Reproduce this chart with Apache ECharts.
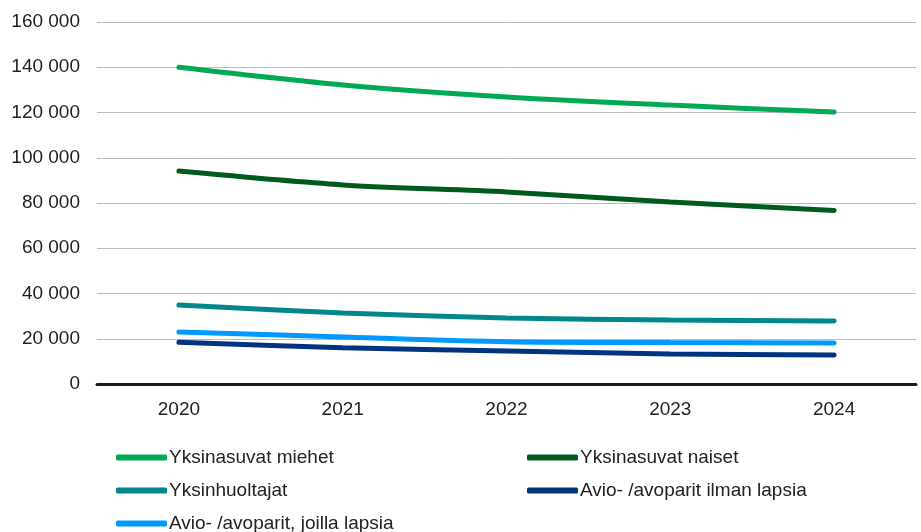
<!DOCTYPE html>
<html>
<head>
<meta charset="utf-8">
<script src="https://cdn.jsdelivr.net/npm/echarts@6/dist/echarts.min.js"></script>
<style>html,body{margin:0;padding:0;background:#fff}#c{width:921px;height:532px}</style>
</head>
<body>
<div id="c"></div>
<script>
var years = ['2020', '2021', '2022', '2023', '2024'];
var miehet = [140000, 132200, 126900, 123300, 120200];
var naiset = [94100, 88000, 84900, 80400, 76700];
var yksinhuoltajat = [34900, 31400, 29200, 28300, 27800];
var ilmanLapsia = [18400, 16000, 14600, 13300, 12800];
var joillaLapsia = [23000, 20800, 18700, 18300, 18100];
var seriesNames = ['Yksinasuvat miehet', 'Yksinasuvat naiset', 'Yksinhuoltajat', 'Avio- /avoparit ilman lapsia', 'Avio- /avoparit, joilla lapsia'];
var colors = ['#00AA55', '#005A1E', '#00868B', '#003380', '#0099FF'];

var chart = echarts.init(document.getElementById('c'));
var dataSets = [miehet, naiset, yksinhuoltajat, ilmanLapsia, joillaLapsia];
var series = dataSets.map(function (d, i) {
  return {
    name: seriesNames[i], type: 'line', data: d, smooth: 0.3,
    symbol: 'none', lineStyle: { width: 5, color: colors[i], cap: 'round' },
    itemStyle: { color: colors[i] }, z: 10 - i
  };
});
var legendCommon = {
  orient: 'vertical', icon: 'roundRect', itemWidth: 51, itemHeight: 6, itemGap: 14,
  padding: 0, height: 120,
  textStyle: { fontFamily: 'Liberation Sans', fontSize: 19, color: '#222', padding: [0, 0, 0, -3] }
};
chart.setOption({
  animation: false,
  textStyle: { fontFamily: 'Liberation Sans' },
  grid: { left: 97, right: 5, top: 22, bottom: 148 },
  legend: [
    Object.assign({}, legendCommon, { left: 116, top: 448, data: [seriesNames[0], seriesNames[2], seriesNames[4]] }),
    Object.assign({}, legendCommon, { left: 527, top: 448, data: [seriesNames[1], seriesNames[3]] })
  ],
  xAxis: {
    type: 'category', data: years, boundaryGap: true,
    axisLine: { show: true, lineStyle: { color: '#1a1a1a', width: 3 } },
    axisTick: { show: false },
    axisLabel: { fontSize: 19, color: '#222', margin: 16 }
  },
  yAxis: {
    type: 'value', min: 0, max: 160000, interval: 20000,
    axisLine: { show: false }, axisTick: { show: false },
    splitLine: { lineStyle: { color: '#BBBBBB', width: 1 } },
    axisLabel: {
      fontSize: 19, color: '#222', margin: 17,
      formatter: function (v) { return String(v).replace(/\B(?=(\d{3})+(?!\d))/g, ' '); }
    }
  },
  series: series
});
</script>
</body>
</html>
